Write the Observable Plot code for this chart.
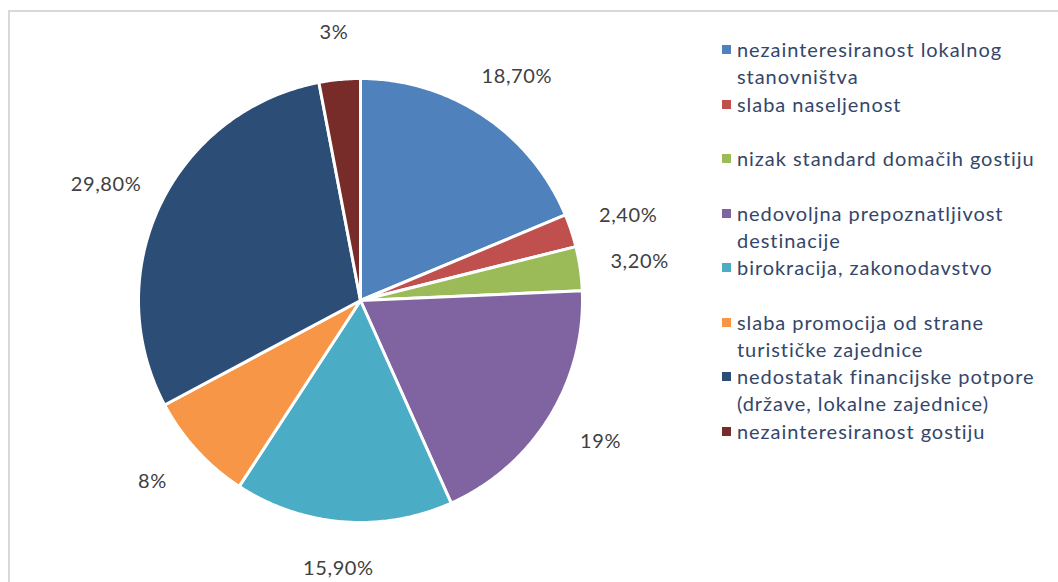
<!DOCTYPE html>
<html>
<head>
<meta charset="utf-8">
<script src="https://cdn.jsdelivr.net/npm/d3@7"></script>
<script src="https://cdn.jsdelivr.net/npm/@observablehq/plot@0.6"></script>
<style>
  html, body { margin: 0; padding: 0; background: #fff; }
  #wrap { position: relative; width: 1058px; height: 582px; overflow: hidden; font-family: Lato, "Open Sans", sans-serif; }
  #chart { position: absolute; left: 0; top: 0; }
  #frameTop { position: absolute; left: 8px; top: 10px; width: 1050px; height: 2px; background: #D9D9D9; }
  #frameLeft { position: absolute; left: 8px; top: 10px; width: 2px; height: 572px; background: #D9D9D9; }
  #legend { position: absolute; left: 720px; top: 36px; }
  .item { position: relative; height: 54.5px; }
  .sw { position: absolute; left: 2px; top: 9px; width: 9px; height: 9px; }
  .txt { position: absolute; left: 17px; top: 0; width: 330px; font-size: 20px; letter-spacing: 0.95px; line-height: 27px; color: #34466A; white-space: nowrap; }
</style>
</head>
<body>
<div id="wrap">
  <div id="chart"></div>
  <div id="frameTop"></div>
  <div id="frameLeft"></div>
  <div id="legend"></div>
</div>
<script>
const categories = [
  "nezainteresiranost lokalnog stanovništva",
  "slaba naseljenost",
  "nizak standard domačih gostiju",
  "nedovoljna prepoznatljivost destinacije",
  "birokracija, zakonodavstvo",
  "slaba promocija od strane turističke zajednice",
  "nedostatak financijske potpore (države, lokalne zajednice)",
  "nezainteresiranost gostiju"
];
const legendLines = [
  ["nezainteresiranost lokalnog", "stanovništva"],
  ["slaba naseljenost"],
  ["nizak standard domačih gostiju"],
  ["nedovoljna prepoznatljivost", "destinacije"],
  ["birokracija, zakonodavstvo"],
  ["slaba promocija od strane", "turističke zajednice"],
  ["nedostatak financijske potpore", "(države, lokalne zajednice)"],
  ["nezainteresiranost gostiju"]
];
const values = [18.7, 2.4, 3.2, 19, 15.9, 8, 29.8, 3];
const valueLabels = ["18,70%", "2,40%", "3,20%", "19%", "15,90%", "8%", "29,80%", "3%"];
const colors = ["#4F81BD", "#C0504D", "#9BBB59", "#8064A2", "#4BACC6", "#F79646", "#2C4D75", "#772C2A"];

const data = categories.map((name, i) => ({name, value: values[i], label: valueLabels[i]}));
const arcs = d3.pie().sort(null).value(d => d.value)(data);

function arcPoints(a0, a1, r) {
  const n = Math.max(2, Math.ceil((a1 - a0) / 0.01));
  const pts = [];
  for (let k = 0; k <= n; k++) {
    const a = a0 + (a1 - a0) * k / n;
    pts.push([r * Math.sin(a), r * Math.cos(a)]);
  }
  return pts;
}

const slices = arcs.map(a => ({
  type: "Feature",
  properties: {name: a.data.name},
  geometry: {type: "Polygon", coordinates: [[[0, 0], ...arcPoints(a.startAngle, a.endAngle, 1), [0, 0]]]}
}));
const circle = {type: "Polygon", coordinates: [arcPoints(0, 2 * Math.PI, 1)]};

const labelR = 1.21;
const labelData = arcs.map(a => {
  const m = (a.startAngle + a.endAngle) / 2;
  return {label: a.data.label, x: labelR * 1.05 * Math.sin(m), y: labelR * Math.cos(m)};
});

const W = 1058, H = 582, cx = 360, cy = 300, R = 222;
const chart = Plot.plot({
  width: W,
  height: H,
  marginLeft: cx - R,
  marginRight: W - (cx + R),
  marginTop: cy - R,
  marginBottom: H - (cy + R),
  projection: {type: "reflect-y", domain: circle, clip: false},
  color: {domain: categories, range: colors},
  style: {fontFamily: "Lato, 'Open Sans', sans-serif", background: "transparent", overflow: "visible"},
  marks: [
    Plot.geo(slices, {fill: d => d.properties.name, stroke: "white", strokeWidth: 3, strokeLinejoin: "round"}),
    Plot.text(labelData, {x: "x", y: "y", text: "label", fontSize: 20, fill: "#404040", textAnchor: "middle", lineAnchor: "middle", clip: false, style: "letter-spacing:0.6px"})
  ]
});
chart.querySelectorAll("g[aria-label='text'] text").forEach(t => t.style.letterSpacing = "0.6px");
document.getElementById("chart").appendChild(chart);

const legend = document.getElementById("legend");
legendLines.forEach((lines, i) => {
  const item = document.createElement("div");
  item.className = "item";
  const sw = document.createElement("div");
  sw.className = "sw";
  sw.style.background = colors[i];
  const txt = document.createElement("div");
  txt.className = "txt";
  txt.innerHTML = lines.join("<br>");
  item.appendChild(sw);
  item.appendChild(txt);
  legend.appendChild(item);
});
</script>
</body>
</html>
